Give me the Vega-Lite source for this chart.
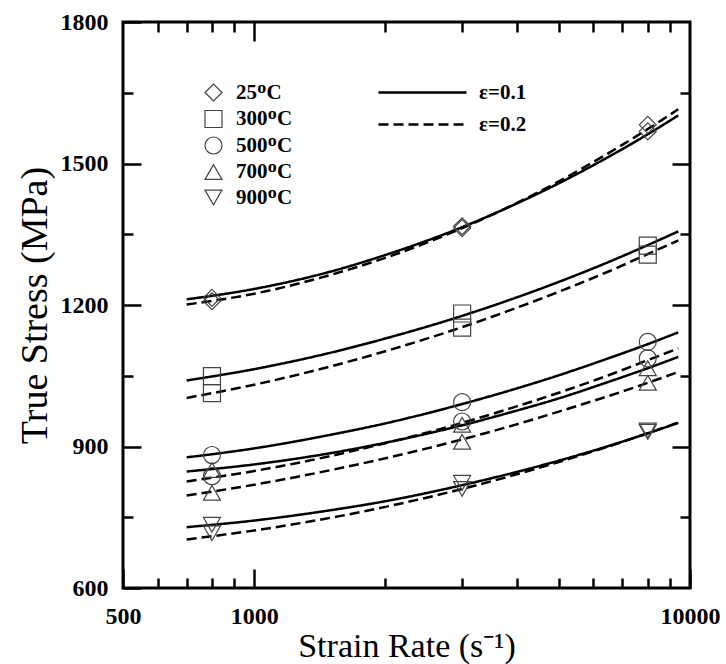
{
  "$schema": "https://vega.github.io/schema/vega-lite/v6.json",
  "width": 567,
  "height": 566,
  "autosize": "none",
  "padding": {"left": 123, "top": 22, "right": 36, "bottom": 76},
  "background": "white",
  "config": {
    "view": {"stroke": "black", "strokeWidth": 3},
    "font": "Liberation Serif",
    "axis": {
      "grid": false,
      "domain": false,
      "tickColor": "black",
      "tickWidth": 2.5,
      "labelFont": "Liberation Serif",
      "labelFontWeight": "bold",
      "labelFontSize": 24,
      "labelColor": "black",
      "titleFont": "Liberation Serif",
      "titleFontWeight": "normal",
      "titleColor": "black",
      "labelFlush": false,
      "labelOverlap": false,
      "labelBound": false
    },
    "legend": {
      "labelFont": "Liberation Serif",
      "labelFontWeight": "bold",
      "labelFontSize": 21,
      "labelColor": "black",
      "labelLimit": 300,
      "padding": 0
    }
  },
  "datasets": {
    "curves": [
      {"rate": 700, "stress": 1212, "temp": "25", "strain": "ε=0.1"},
      {"rate": 1000, "stress": 1234, "temp": "25", "strain": "ε=0.1"},
      {"rate": 1500, "stress": 1271, "temp": "25", "strain": "ε=0.1"},
      {"rate": 2000, "stress": 1306, "temp": "25", "strain": "ε=0.1"},
      {"rate": 3000, "stress": 1365, "temp": "25", "strain": "ε=0.1"},
      {"rate": 4000, "stress": 1415, "temp": "25", "strain": "ε=0.1"},
      {"rate": 5000, "stress": 1458, "temp": "25", "strain": "ε=0.1"},
      {"rate": 6500, "stress": 1514, "temp": "25", "strain": "ε=0.1"},
      {"rate": 8000, "stress": 1562, "temp": "25", "strain": "ε=0.1"},
      {"rate": 9400, "stress": 1602, "temp": "25", "strain": "ε=0.1"},

      {"rate": 700, "stress": 1201, "temp": "25", "strain": "ε=0.2"},
      {"rate": 1000, "stress": 1224, "temp": "25", "strain": "ε=0.2"},
      {"rate": 1500, "stress": 1264, "temp": "25", "strain": "ε=0.2"},
      {"rate": 2000, "stress": 1300, "temp": "25", "strain": "ε=0.2"},
      {"rate": 3000, "stress": 1363, "temp": "25", "strain": "ε=0.2"},
      {"rate": 4000, "stress": 1416, "temp": "25", "strain": "ε=0.2"},
      {"rate": 5000, "stress": 1462, "temp": "25", "strain": "ε=0.2"},
      {"rate": 6500, "stress": 1522, "temp": "25", "strain": "ε=0.2"},
      {"rate": 8000, "stress": 1573, "temp": "25", "strain": "ε=0.2"},
      {"rate": 9400, "stress": 1615, "temp": "25", "strain": "ε=0.2"},

      {"rate": 700, "stress": 1040, "temp": "300", "strain": "ε=0.1"},
      {"rate": 1000, "stress": 1064, "temp": "300", "strain": "ε=0.1"},
      {"rate": 1500, "stress": 1099, "temp": "300", "strain": "ε=0.1"},
      {"rate": 2000, "stress": 1129, "temp": "300", "strain": "ε=0.1"},
      {"rate": 3000, "stress": 1177, "temp": "300", "strain": "ε=0.1"},
      {"rate": 4000, "stress": 1216, "temp": "300", "strain": "ε=0.1"},
      {"rate": 5000, "stress": 1249, "temp": "300", "strain": "ε=0.1"},
      {"rate": 6500, "stress": 1291, "temp": "300", "strain": "ε=0.1"},
      {"rate": 8000, "stress": 1327, "temp": "300", "strain": "ε=0.1"},
      {"rate": 9400, "stress": 1356, "temp": "300", "strain": "ε=0.1"},

      {"rate": 700, "stress": 1003, "temp": "300", "strain": "ε=0.2"},
      {"rate": 1000, "stress": 1031, "temp": "300", "strain": "ε=0.2"},
      {"rate": 1500, "stress": 1070, "temp": "300", "strain": "ε=0.2"},
      {"rate": 2000, "stress": 1102, "temp": "300", "strain": "ε=0.2"},
      {"rate": 3000, "stress": 1153, "temp": "300", "strain": "ε=0.2"},
      {"rate": 4000, "stress": 1194, "temp": "300", "strain": "ε=0.2"},
      {"rate": 5000, "stress": 1228, "temp": "300", "strain": "ε=0.2"},
      {"rate": 6500, "stress": 1271, "temp": "300", "strain": "ε=0.2"},
      {"rate": 8000, "stress": 1308, "temp": "300", "strain": "ε=0.2"},
      {"rate": 9400, "stress": 1337, "temp": "300", "strain": "ε=0.2"},

      {"rate": 700, "stress": 877, "temp": "500", "strain": "ε=0.1"},
      {"rate": 1000, "stress": 896, "temp": "500", "strain": "ε=0.1"},
      {"rate": 1500, "stress": 925, "temp": "500", "strain": "ε=0.1"},
      {"rate": 2000, "stress": 949, "temp": "500", "strain": "ε=0.1"},
      {"rate": 3000, "stress": 990, "temp": "500", "strain": "ε=0.1"},
      {"rate": 4000, "stress": 1023, "temp": "500", "strain": "ε=0.1"},
      {"rate": 5000, "stress": 1051, "temp": "500", "strain": "ε=0.1"},
      {"rate": 6500, "stress": 1087, "temp": "500", "strain": "ε=0.1"},
      {"rate": 8000, "stress": 1117, "temp": "500", "strain": "ε=0.1"},
      {"rate": 9400, "stress": 1142, "temp": "500", "strain": "ε=0.1"},

      {"rate": 700, "stress": 826, "temp": "500", "strain": "ε=0.2"},
      {"rate": 1000, "stress": 848, "temp": "500", "strain": "ε=0.2"},
      {"rate": 1500, "stress": 880, "temp": "500", "strain": "ε=0.2"},
      {"rate": 2000, "stress": 907, "temp": "500", "strain": "ε=0.2"},
      {"rate": 3000, "stress": 950, "temp": "500", "strain": "ε=0.2"},
      {"rate": 4000, "stress": 985, "temp": "500", "strain": "ε=0.2"},
      {"rate": 5000, "stress": 1014, "temp": "500", "strain": "ε=0.2"},
      {"rate": 6500, "stress": 1051, "temp": "500", "strain": "ε=0.2"},
      {"rate": 8000, "stress": 1083, "temp": "500", "strain": "ε=0.2"},
      {"rate": 9400, "stress": 1108, "temp": "500", "strain": "ε=0.2"},

      {"rate": 700, "stress": 847, "temp": "700", "strain": "ε=0.1"},
      {"rate": 1000, "stress": 862, "temp": "700", "strain": "ε=0.1"},
      {"rate": 1500, "stress": 886, "temp": "700", "strain": "ε=0.1"},
      {"rate": 2000, "stress": 908, "temp": "700", "strain": "ε=0.1"},
      {"rate": 3000, "stress": 945, "temp": "700", "strain": "ε=0.1"},
      {"rate": 4000, "stress": 976, "temp": "700", "strain": "ε=0.1"},
      {"rate": 5000, "stress": 1002, "temp": "700", "strain": "ε=0.1"},
      {"rate": 6500, "stress": 1037, "temp": "700", "strain": "ε=0.1"},
      {"rate": 8000, "stress": 1066, "temp": "700", "strain": "ε=0.1"},
      {"rate": 9400, "stress": 1090, "temp": "700", "strain": "ε=0.1"},

      {"rate": 700, "stress": 796, "temp": "700", "strain": "ε=0.2"},
      {"rate": 1000, "stress": 819, "temp": "700", "strain": "ε=0.2"},
      {"rate": 1500, "stress": 850, "temp": "700", "strain": "ε=0.2"},
      {"rate": 2000, "stress": 875, "temp": "700", "strain": "ε=0.2"},
      {"rate": 3000, "stress": 915, "temp": "700", "strain": "ε=0.2"},
      {"rate": 4000, "stress": 947, "temp": "700", "strain": "ε=0.2"},
      {"rate": 5000, "stress": 974, "temp": "700", "strain": "ε=0.2"},
      {"rate": 6500, "stress": 1007, "temp": "700", "strain": "ε=0.2"},
      {"rate": 8000, "stress": 1035, "temp": "700", "strain": "ε=0.2"},
      {"rate": 9400, "stress": 1058, "temp": "700", "strain": "ε=0.2"},

      {"rate": 700, "stress": 729, "temp": "900", "strain": "ε=0.1"},
      {"rate": 1000, "stress": 743, "temp": "900", "strain": "ε=0.1"},
      {"rate": 1500, "stress": 765, "temp": "900", "strain": "ε=0.1"},
      {"rate": 2000, "stress": 784, "temp": "900", "strain": "ε=0.1"},
      {"rate": 3000, "stress": 818, "temp": "900", "strain": "ε=0.1"},
      {"rate": 4000, "stress": 846, "temp": "900", "strain": "ε=0.1"},
      {"rate": 5000, "stress": 870, "temp": "900", "strain": "ε=0.1"},
      {"rate": 6500, "stress": 901, "temp": "900", "strain": "ε=0.1"},
      {"rate": 8000, "stress": 928, "temp": "900", "strain": "ε=0.1"},
      {"rate": 9400, "stress": 950, "temp": "900", "strain": "ε=0.1"},

      {"rate": 700, "stress": 703, "temp": "900", "strain": "ε=0.2"},
      {"rate": 1000, "stress": 722, "temp": "900", "strain": "ε=0.2"},
      {"rate": 1500, "stress": 749, "temp": "900", "strain": "ε=0.2"},
      {"rate": 2000, "stress": 772, "temp": "900", "strain": "ε=0.2"},
      {"rate": 3000, "stress": 810, "temp": "900", "strain": "ε=0.2"},
      {"rate": 4000, "stress": 841, "temp": "900", "strain": "ε=0.2"},
      {"rate": 5000, "stress": 867, "temp": "900", "strain": "ε=0.2"},
      {"rate": 6500, "stress": 900, "temp": "900", "strain": "ε=0.2"},
      {"rate": 8000, "stress": 928, "temp": "900", "strain": "ε=0.2"},
      {"rate": 9400, "stress": 951, "temp": "900", "strain": "ε=0.2"}
    ],
    "points": [
      {"rate": 800, "stress": 1215, "temp": "25", "strain": "ε=0.1"},
      {"rate": 800, "stress": 1208, "temp": "25", "strain": "ε=0.2"},
      {"rate": 3000, "stress": 1367, "temp": "25", "strain": "ε=0.1"},
      {"rate": 3000, "stress": 1363, "temp": "25", "strain": "ε=0.2"},
      {"rate": 8000, "stress": 1568, "temp": "25", "strain": "ε=0.1"},
      {"rate": 8000, "stress": 1582, "temp": "25", "strain": "ε=0.2"},
      {"rate": 800, "stress": 1049, "temp": "300", "strain": "ε=0.1"},
      {"rate": 800, "stress": 1013, "temp": "300", "strain": "ε=0.2"},
      {"rate": 3000, "stress": 1182, "temp": "300", "strain": "ε=0.1"},
      {"rate": 3000, "stress": 1152, "temp": "300", "strain": "ε=0.2"},
      {"rate": 8000, "stress": 1326, "temp": "300", "strain": "ε=0.1"},
      {"rate": 8000, "stress": 1307, "temp": "300", "strain": "ε=0.2"},
      {"rate": 800, "stress": 882, "temp": "500", "strain": "ε=0.1"},
      {"rate": 800, "stress": 837, "temp": "500", "strain": "ε=0.2"},
      {"rate": 3000, "stress": 994, "temp": "500", "strain": "ε=0.1"},
      {"rate": 3000, "stress": 953, "temp": "500", "strain": "ε=0.2"},
      {"rate": 8000, "stress": 1122, "temp": "500", "strain": "ε=0.1"},
      {"rate": 8000, "stress": 1087, "temp": "500", "strain": "ε=0.2"},
      {"rate": 800, "stress": 850, "temp": "700", "strain": "ε=0.1"},
      {"rate": 800, "stress": 802, "temp": "700", "strain": "ε=0.2"},
      {"rate": 3000, "stress": 946, "temp": "700", "strain": "ε=0.1"},
      {"rate": 3000, "stress": 910, "temp": "700", "strain": "ε=0.2"},
      {"rate": 8000, "stress": 1066, "temp": "700", "strain": "ε=0.1"},
      {"rate": 8000, "stress": 1035, "temp": "700", "strain": "ε=0.2"},
      {"rate": 800, "stress": 734, "temp": "900", "strain": "ε=0.1"},
      {"rate": 800, "stress": 716, "temp": "900", "strain": "ε=0.2"},
      {"rate": 3000, "stress": 823, "temp": "900", "strain": "ε=0.1"},
      {"rate": 3000, "stress": 810, "temp": "900", "strain": "ε=0.2"},
      {"rate": 8000, "stress": 934, "temp": "900", "strain": "ε=0.1"},
      {"rate": 8000, "stress": 931, "temp": "900", "strain": "ε=0.2"}
    ]
  },
  "layer": [
    {
      "data": {"name": "curves"},
      "mark": {"type": "line", "color": "black", "strokeWidth": 2.5, "interpolate": "monotone"},
      "encoding": {
        "x": {
          "field": "rate", "type": "quantitative",
          "scale": {"type": "log", "domain": [500, 10000], "nice": false, "zero": false},
          "axis": {"orient": "bottom", "values": [500, 1000, 10000], "format": "d", "tickSize": -19, "labelPadding": 35, "title": "Strain Rate (s⁻¹)", "titleFontSize": 34, "titlePadding": 1}
        },
        "y": {
          "field": "stress", "type": "quantitative",
          "scale": {"domain": [600, 1800], "nice": false, "zero": false},
          "axis": {"orient": "left", "values": [600, 900, 1200, 1500, 1800], "format": "d", "tickSize": -18, "labelPadding": 33, "title": "True Stress (MPa)", "titleFontSize": 38, "titlePadding": 6}
        },
        "detail": {"field": "temp"},
        "strokeDash": {
          "field": "strain", "type": "nominal",
          "scale": {"domain": ["ε=0.1", "ε=0.2"], "range": [[1, 0], [10, 5]]},
          "legend": {
            "orient": "none", "legendX": 288, "legendY": 59, "title": null,
            "symbolType": "M-4.4,0H4.4", "symbolSize": 400, "symbolStrokeWidth": 2.5,
            "symbolStrokeColor": "black", "labelOffset": 45, "rowPadding": 10
          }
        }
      }
    },
    {
      "data": {"name": "points"},
      "mark": {"type": "point", "filled": false, "stroke": "#444", "strokeWidth": 1.2, "size": 289, "opacity": 1},
      "encoding": {
        "x": {
          "field": "rate", "type": "quantitative",
          "scale": {"type": "log", "domain": [500, 10000], "nice": false, "zero": false},
          "axis": {"orient": "top", "values": [1000], "tickSize": -19, "labels": false, "title": null}
        },
        "y": {
          "field": "stress", "type": "quantitative",
          "scale": {"domain": [600, 1800], "nice": false, "zero": false},
          "axis": {"orient": "right", "values": [900, 1200, 1500], "tickSize": -18, "labels": false, "title": null}
        },
        "shape": {
          "field": "temp", "type": "nominal",
          "scale": {"domain": ["25", "300", "500", "700", "900"], "range": ["diamond", "square", "circle", "triangle-up", "triangle-down"]},
          "legend": {
            "orient": "none", "legendX": 80, "legendY": 60, "title": null,
            "labelExpr": "datum.value == '25' ? ' 25ᴼC' : datum.value + 'ᴼC'",
            "symbolSize": 289, "symbolStrokeWidth": 1.2, "symbolStrokeColor": "#444",
            "symbolFillColor": "transparent", "labelOffset": 12, "rowPadding": 3.5
          }
        }
      }
    },
    {
      "data": {"name": "points"},
      "mark": {"type": "point", "opacity": 0},
      "encoding": {
        "x": {
          "field": "rate", "type": "quantitative",
          "scale": {"type": "log", "domain": [500, 10000], "nice": false, "zero": false},
          "axis": {"orient": "bottom", "values": [600, 700, 800, 900, 2000, 3000, 4000, 5000, 6000, 7000, 8000, 9000], "tickSize": -10, "labels": false, "title": null}
        },
        "y": {
          "field": "stress", "type": "quantitative",
          "scale": {"domain": [600, 1800], "nice": false, "zero": false},
          "axis": {"orient": "left", "values": [750, 1050, 1350, 1650], "tickSize": -10, "labels": false, "title": null}
        }
      }
    },
    {
      "data": {"name": "points"},
      "mark": {"type": "point", "opacity": 0},
      "encoding": {
        "x": {
          "field": "rate", "type": "quantitative",
          "scale": {"type": "log", "domain": [500, 10000], "nice": false, "zero": false},
          "axis": {"orient": "top", "values": [600, 700, 800, 900, 2000, 3000, 4000, 5000, 6000, 7000, 8000, 9000], "tickSize": -10, "labels": false, "title": null}
        },
        "y": {
          "field": "stress", "type": "quantitative",
          "scale": {"domain": [600, 1800], "nice": false, "zero": false},
          "axis": {"orient": "right", "values": [750, 1050, 1350, 1650], "tickSize": -10, "labels": false, "title": null}
        }
      }
    }
  ]
}
